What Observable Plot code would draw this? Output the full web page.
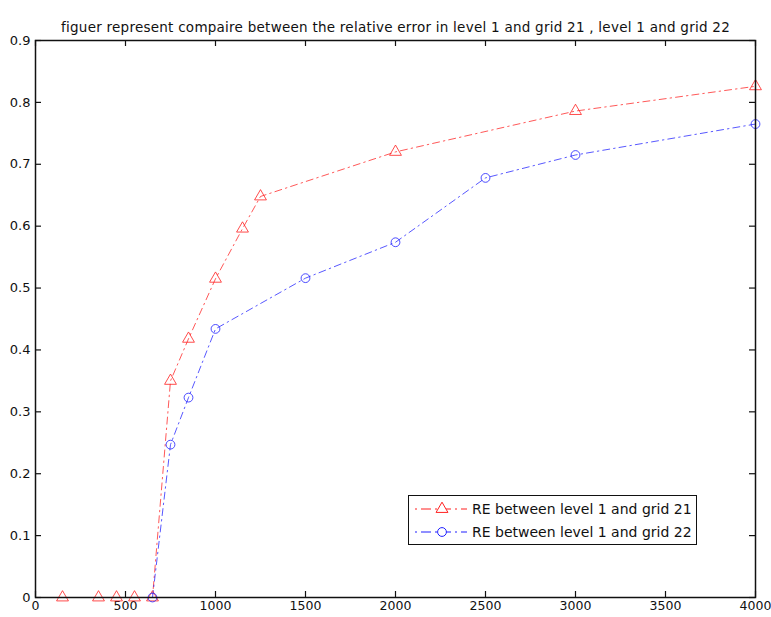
<!DOCTYPE html>
<html>
<head>
<meta charset="utf-8">
<script src="https://cdn.jsdelivr.net/npm/d3@7"></script>
<script src="https://cdn.jsdelivr.net/npm/@observablehq/plot@0.6"></script>
<style>
  body { margin: 0; background: #fff; }
  #chart { position: relative; width: 771px; height: 617px; overflow: hidden; }
  .legend { position: absolute; left: 408px; top: 495px; width: 287px; height: 48px;
            border: 1.5px solid #111; background: #fff; font-family: "DejaVu Sans", sans-serif;
            font-size: 14px; color: #111; }
  .legend .row { position: absolute; left: 0; height: 20px; display: flex; align-items: center; }
  .legend svg { display: block; }
  .legend span { margin-left: 3px; white-space: nowrap; }
</style>
</head>
<body>
<div id="chart"></div>
<script>
const titleText = "figuer represent compaire between the relative error in level 1 and grid 21 , level 1 and grid 22";
const seriesNames = ["RE between level 1 and grid 21", "RE between level 1 and grid 22"];
const seriesColors = ["#ff2020", "#2020ff"];

const xGrid21 = [150, 350, 450, 550, 650, 750, 850, 1000, 1150, 1250, 2000, 3000, 4000];
const yGrid21 = [0, 0, 0, 0, 0, 0.35, 0.418, 0.515, 0.596, 0.648, 0.72, 0.786, 0.826];
const xGrid22 = [650, 750, 850, 1000, 1500, 2000, 2500, 3000, 4000];
const yGrid22 = [0, 0.247, 0.323, 0.434, 0.516, 0.574, 0.678, 0.715, 0.765];

const xTicks = [0, 500, 1000, 1500, 2000, 2500, 3000, 3500, 4000];
const yTicks = [0, 0.1, 0.2, 0.3, 0.4, 0.5, 0.6, 0.7, 0.8, 0.9];

const W = 771, H = 617;
const mTop = 40, mBottom = 20, mLeft = 35, mRight = 16;
const innerW = W - mLeft - mRight, innerH = H - mTop - mBottom;
const tickLen = 6;
const dash = "7,4,1.5,4";

const data21 = xGrid21.map((x, i) => ({x, y: yGrid21[i]}));
const data22 = xGrid22.map((x, i) => ({x, y: yGrid22[i]}));

const chart = Plot.plot({
  width: W, height: H,
  marginTop: mTop, marginBottom: mBottom, marginLeft: mLeft, marginRight: mRight,
  style: {fontFamily: "DejaVu Sans, sans-serif", fontSize: "13px", color: "#111", background: "#fff"},
  x: {domain: [0, 4000]},
  y: {domain: [0, 0.9]},
  marks: [
    Plot.axisX(xTicks, {tickSize: 0, tickPadding: 4, label: null, fontSize: 12.5, tickFormat: d => String(d)}),
    Plot.axisY(yTicks, {tickSize: 0, tickPadding: 5, label: null, fontSize: 13, tickFormat: d => String(d)}),
    // inward ticks on all four sides
    Plot.tickX(xTicks, {x: d => d, insetTop: innerH - tickLen, stroke: "#111", strokeWidth: 1.2}),
    Plot.tickX(xTicks, {x: d => d, insetBottom: innerH - tickLen, stroke: "#111", strokeWidth: 1.2}),
    Plot.tickY(yTicks, {y: d => d, insetRight: innerW - tickLen, stroke: "#111", strokeWidth: 1.2}),
    Plot.tickY(yTicks, {y: d => d, insetLeft: innerW - tickLen, stroke: "#111", strokeWidth: 1.2}),
    Plot.line(data21, {x: "x", y: "y", stroke: seriesColors[0], strokeWidth: 1, strokeDasharray: dash, strokeOpacity: 0.75}),
    Plot.line(data22, {x: "x", y: "y", stroke: seriesColors[1], strokeWidth: 1, strokeDasharray: dash, strokeOpacity: 0.75}),
    Plot.dot(data21, {x: "x", y: "y", symbol: "triangle", r: 4.4, stroke: seriesColors[0], strokeWidth: 1, fill: "none", strokeOpacity: 0.8}),
    Plot.dot(data22, {x: "x", y: "y", symbol: "circle", r: 4.4, stroke: seriesColors[1], strokeWidth: 1, fill: "none", strokeOpacity: 0.8}),
    Plot.frame({stroke: "#111", strokeWidth: 1.5}),
    Plot.text([titleText], {text: d => d, frameAnchor: "top", dy: -18, fontSize: 13.5,
      fontFamily: "DejaVu Sans, sans-serif", fill: "#111"})
  ]
});
chart.querySelectorAll("text").forEach(t => {
  if (t.textContent === titleText) t.setAttribute("letter-spacing", "0.25");
});
const host = document.getElementById("chart");
host.appendChild(chart);

// legend
const legend = document.createElement("div");
legend.className = "legend";
seriesNames.forEach((name, i) => {
  const row = document.createElement("div");
  row.className = "row";
  row.style.top = (i === 0 ? 3 : 26) + "px";
  const ns = "http://www.w3.org/2000/svg";
  const svg = document.createElementNS(ns, "svg");
  svg.setAttribute("width", 60); svg.setAttribute("height", 20);
  const ln = document.createElementNS(ns, "line");
  ln.setAttribute("x1", 6); ln.setAttribute("x2", 58); ln.setAttribute("y1", 10); ln.setAttribute("y2", 10);
  ln.setAttribute("stroke", seriesColors[i]); ln.setAttribute("stroke-dasharray", "2,4,10,4");
  ln.setAttribute("stroke-width", 1.2);
  svg.appendChild(ln);
  const sym = d3.symbol(i === 0 ? d3.symbolTriangle : d3.symbolCircle, 4.4 * 4.4 * Math.PI)();
  const p = document.createElementNS(ns, "path");
  p.setAttribute("d", sym); p.setAttribute("transform", "translate(33,10)");
  p.setAttribute("fill", "white"); p.setAttribute("stroke", seriesColors[i]);
  svg.appendChild(p);
  row.appendChild(svg);
  const span = document.createElement("span");
  span.textContent = name;
  row.appendChild(span);
  legend.appendChild(row);
});
host.appendChild(legend);
</script>
</body>
</html>
